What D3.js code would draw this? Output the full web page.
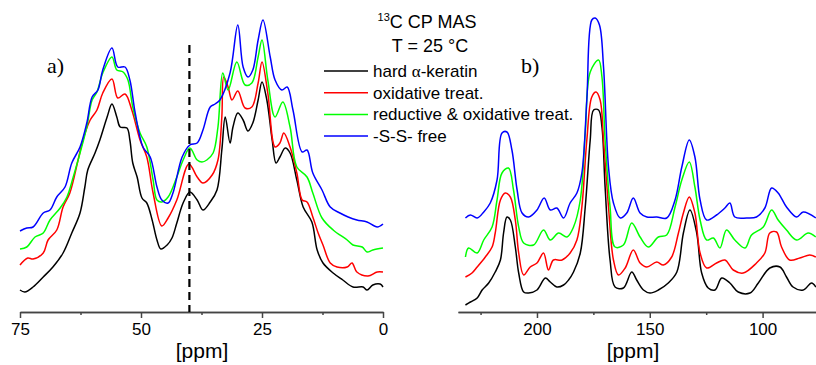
<!DOCTYPE html>
<html>
<head>
<meta charset="utf-8">
<script src="https://cdn.jsdelivr.net/npm/d3@7"></script>
<style>
  body { margin: 0; background: #fff; }
  svg text { font-family: Arial, "Liberation Sans", sans-serif; fill: #000; }
  .axis path, .axis line { stroke: #444; stroke-width: 1.5; }
  .axis text { font-size: 17px; }
</style>
</head>
<body>
<svg id="chart" width="816" height="365"></svg>
<script>
// series names and colours (legend order)
const seriesNames = ["hard α-keratin", "oxidative treat.", "reductive & oxidative treat.", "-S-S- free"];
const seriesColors = ["#000000", "#ff0000", "#00ff00", "#0000ff"];

// panel a) aliphatic region, [ppm, intensity (a.u., stacked as plotted)]
const aBlack = [[75.0,22],[74.0,20],[72.3,25],[70.2,35],[68.2,45],[66.1,59],[64.3,79],[62.6,99],[61.6,125],[61.0,142],[59.5,159],[58.5,172],[57.0,195],[56.0,208],[55.0,195],[54.3,185],[52.9,184],[52.3,172],[51.7,149],[50.8,135],[49.8,114],[48.8,109],[47.7,92],[46.7,72],[45.9,63],[44.6,67],[43.6,74],[42.6,89],[41.3,109],[39.9,120],[38.4,112],[37.2,102],[35.7,110],[34.3,122],[33.3,162],[32.6,195],[31.6,169],[31.0,185],[30.0,199],[28.9,192],[27.9,181],[26.9,189],[25.8,212],[25.0,230],[24.0,212],[22.9,172],[22.1,149],[21.3,155],[20.2,164],[19.2,159],[17.8,132],[16.5,105],[14.7,90],[13.6,62],[12.4,49],[10.3,39],[8.3,32],[6.2,25],[4.1,25],[3.3,22],[2.1,27],[0.6,28],[0,25]];
const aRed = [[75.0,47],[73.4,54],[72.3,53],[70.2,59],[69.2,72],[67.4,82],[66.1,105],[64.7,119],[63.0,152],[62.0,172],[60.5,192],[59.1,202],[57.9,219],[56.0,233],[54.8,214],[53.3,218],[51.9,202],[50.2,172],[48.8,155],[47.5,119],[45.7,86],[44.4,94],[42.6,112],[40.1,148],[38.4,135],[37.2,129],[35.3,137],[34.1,152],[33.3,195],[32.9,235],[32.0,225],[31.2,212],[30.0,221],[28.5,204],[27.1,205],[25.8,229],[25.0,250],[23.8,219],[22.3,165],[21.3,169],[20.5,179],[19.2,165],[17.8,139],[16.7,112],[15.7,110],[14.5,95],[13.4,79],[12.4,67],[10.9,49],[9.5,45],[7.4,45],[6.4,49],[5.4,40],[3.1,36],[1.2,40],[0,40]];
const aGreen = [[75.0,63],[73.6,65],[71.9,75],[70.2,79],[68.8,92],[66.7,104],[65.3,115],[64.0,135],[62.6,159],[61.2,185],[60.1,212],[59.1,220],[57.9,239],[56.0,255],[55.0,242],[53.7,240],[52.7,232],[51.7,205],[50.2,179],[48.8,165],[47.5,132],[46.7,112],[45.7,110],[44.4,115],[42.6,135],[41.3,152],[39.9,164],[38.4,152],[37.4,150],[36.4,152],[35.1,159],[34.1,185],[33.1,239],[32.0,222],[30.2,250],[28.5,227],[27.1,229],[25.8,255],[25.0,272],[23.8,232],[22.3,195],[20.7,210],[19.2,185],[17.8,145],[15.7,135],[14.5,119],[12.6,94],[10.3,82],[7.4,72],[6.2,67],[4.3,65],[3.3,60],[2.1,62],[0,64]];
const aBlue = [[75.0,81],[73.6,84],[72.3,85],[70.2,99],[68.8,102],[67.4,115],[65.7,125],[64.3,149],[62.6,165],[61.2,189],[60.1,215],[58.9,222],[57.9,242],[56.0,264],[54.8,245],[53.3,245],[52.3,232],[51.2,199],[49.6,165],[48.1,155],[46.7,125],[45.7,112],[44.4,109],[43.4,119],[41.5,155],[39.9,167],[38.4,169],[37.2,182],[35.7,205],[34.7,208],[33.7,212],[31.6,239],[30.0,287],[28.9,245],[27.9,235],[26.9,242],[25.8,272],[24.8,292],[23.3,255],[22.3,232],[20.9,222],[19.8,225],[18.6,202],[16.7,160],[15.7,162],[14.5,139],[12.6,122],[10.9,105],[8.9,99],[7.2,95],[5.4,92],[3.3,90],[1.2,85],[0,88]];

// panel b) carbonyl / aromatic region
const bBlack = [[231.7,7],[229.5,10],[226.5,14],[224.3,22],[221.4,29],[218.5,40],[216.2,52],[214.8,79],[213.3,95],[211.8,92],[209.6,65],[208.1,39],[205.9,20],[203.7,19],[200,22],[196.3,34],[194.1,30],[191.2,25],[188.2,27],[186,32],[183.8,40],[180.8,59],[178.6,105],[176.4,172],[174.9,202],[172.7,202],[171.2,185],[169.8,125],[167.6,52],[165.4,25],[161.7,24],[158,40],[155.8,32],[152.8,22],[149.9,19],[146.2,22],[141.8,29],[138,40],[135.1,79],[132.2,102],[129.2,79],[127,39],[124.1,24],[121.1,22],[118.1,34],[114.5,29],[110.8,20],[105.6,19],[101.9,29],[96.8,44],[92.3,45],[89.4,35],[86.5,25],[82,22],[78.3,29],[76.4,25]];
const bRed = [[231.7,35],[228.8,39],[226.5,45],[222.9,55],[219.9,65],[218.5,79],[216.2,112],[214,119],[211.8,115],[209.6,92],[208.1,59],[205.9,37],[203,45],[200,49],[197.1,59],[194.9,42],[192.7,52],[188.9,52],[185.3,59],[182.3,72],[180.1,105],[177.9,172],[175.7,215],[173.8,220],[172,212],[170.5,172],[168.3,105],[166.1,52],[163.9,37],[160.9,44],[157.3,62],[154.3,49],[151.3,45],[146.9,50],[144,47],[140.3,55],[137.3,79],[135.1,99],[132.5,115],[130,99],[127.7,59],[124.8,44],[120.4,49],[116.7,52],[113,42],[108.6,39],[102.7,49],[99,59],[96.8,79],[93.8,80],[91.6,65],[88,52],[83.5,54],[79.1,57],[76.4,55]];
const bGreen = [[231.7,55],[230.3,64],[226.5,59],[223.6,72],[219.9,85],[217.7,112],[215.5,139],[212.6,144],[210.4,122],[208.1,85],[205.9,69],[201.5,67],[197.1,82],[194.1,72],[190.4,79],[186.7,75],[183.8,85],[180.8,112],[178.6,179],[176.4,240],[172.7,252],[171.2,235],[169.8,172],[167.6,105],[165.4,65],[161.7,67],[158,89],[154.3,75],[150.6,65],[146.2,75],[142.5,77],[138.8,105],[135.8,132],[132.5,150],[130,125],[127.7,92],[124.8,72],[121.8,74],[118.9,64],[116,82],[112.3,72],[107.8,64],[104.9,77],[99.7,85],[96,102],[93.1,92],[89.4,82],[84.9,72],[79.8,79],[76.4,75]];
const bBlue = [[231.7,94],[229.5,97],[226.5,94],[223.6,100],[220.7,109],[217.7,132],[215.5,179],[213.3,180],[211.1,162],[208.8,122],[206.6,99],[203.7,95],[200,102],[196.8,114],[194.1,102],[191.2,104],[188.2,94],[185.3,109],[182.3,119],[180.1,139],[177.9,212],[175.7,292],[174.2,294],[172.3,287],[170.5,245],[168.3,145],[166.1,109],[163.1,94],[160.2,99],[157.3,114],[154.3,99],[151.3,95],[146.9,95],[142.5,94],[138.8,112],[135.8,145],[132.5,172],[130,155],[127.7,112],[124.8,92],[120.4,97],[116.7,104],[114.5,109],[112.3,95],[107.1,94],[102.7,95],[99,104],[96,124],[93.1,119],[89.4,105],[84.9,95],[82,100],[76.4,94]];

// axis ticks
const aMajor = [75, 50, 25, 0];
const aMinor = [62.5, 37.5, 12.5];
const bMajor = [200, 150, 100];
const bMinor = [225, 175, 125];
const dashedPpm = 40;

const svg = d3.select("#chart");
const axisY = 312;

const y = d3.scaleLinear().domain([0, 300]).range([axisY, 12]);
const xa = d3.scaleLinear().domain([75, 0]).range([20, 383]);
const xb = d3.scaleLinear().domain([235, 75]).range([458, 819]);

function drawPanel(x, series, major, minor, label, labelX, titleX) {
    const g = svg.append("g");
    const line = d3.line()
        .x(d => x(d[0]))
        .y(d => y(d[1]))
        .curve(d3.curveCatmullRom.alpha(0.5));

    g.selectAll(".spec")
        .data(series)
        .enter().append("path")
        .attr("class", "spec")
        .attr("d", d => line(d))
        .attr("fill", "none")
        .attr("stroke", (d, i) => seriesColors[i])
        .attr("stroke-width", 1.5)
        .attr("stroke-linejoin", "round");

    // minor ticks (short), then major axis with labels
    g.append("g")
        .attr("class", "axis")
        .attr("transform", "translate(0," + axisY + ")")
        .call(d3.axisBottom(x).tickValues(minor).tickSize(3).tickSizeOuter(0).tickFormat(""));
    g.append("g")
        .attr("class", "axis")
        .attr("transform", "translate(0," + axisY + ")")
        .call(d3.axisBottom(x).tickValues(major).tickSize(6).tickSizeOuter(0).tickPadding(5).tickFormat(d3.format("d")))
        .selectAll("text").attr("fill", "#000").attr("dy", "0.71em");

    g.append("text")
        .attr("x", titleX)
        .attr("y", 358)
        .attr("text-anchor", "middle")
        .style("font-size", "21px")
        .text("[ppm]");

    g.append("text")
        .attr("x", labelX)
        .attr("y", 73)
        .style("font-family", "'Liberation Serif', 'Times New Roman', serif")
        .style("font-size", "22px")
        .text(label);
    return g;
}

drawPanel(xa, [aBlack, aRed, aGreen, aBlue], aMajor, aMinor, "a)", 47, 202);
drawPanel(xb, [bBlack, bRed, bGreen, bBlue], bMajor, bMinor, "b)", 521, 633);

// dashed marker at 40 ppm
svg.append("line")
    .attr("x1", xa(dashedPpm)).attr("x2", xa(dashedPpm))
    .attr("y1", 45).attr("y2", axisY)
    .attr("stroke", "#000")
    .attr("stroke-width", 2.2)
    .attr("stroke-dasharray", "8,5");

// title
const title = svg.append("text")
    .attr("x", 427)
    .attr("y", 28)
    .attr("text-anchor", "middle")
    .style("font-size", "18px");
title.append("tspan").attr("dy", -7).style("font-size", "11px").text("13");
title.append("tspan").attr("dy", 7).text("C CP MAS");

svg.append("text")
    .attr("x", 430)
    .attr("y", 52)
    .attr("text-anchor", "middle")
    .style("font-size", "18px")
    .text("T = 25 °C");

// legend
const legend = svg.append("g").attr("transform", "translate(324,71)");
const rows = legend.selectAll("g")
    .data(seriesNames)
    .enter().append("g")
    .attr("transform", (d, i) => "translate(0," + (i * 21.7) + ")");

rows.append("line")
    .attr("x1", 0).attr("x2", 44)
    .attr("stroke", (d, i) => seriesColors[i])
    .attr("stroke-width", 1.5);

rows.append("text")
    .attr("x", 49)
    .attr("y", 6)
    .style("font-size", "17px")
    .each(function(d) {
        const t = d3.select(this);
        if (d.indexOf("α") >= 0) {
            const parts = d.split("α");
            t.append("tspan").text(parts[0]);
            t.append("tspan").style("font-family", "'Liberation Serif', 'Times New Roman', serif").text("α");
            t.append("tspan").text(parts[1]);
        } else {
            t.text(d);
        }
    });
</script>
</body>
</html>
